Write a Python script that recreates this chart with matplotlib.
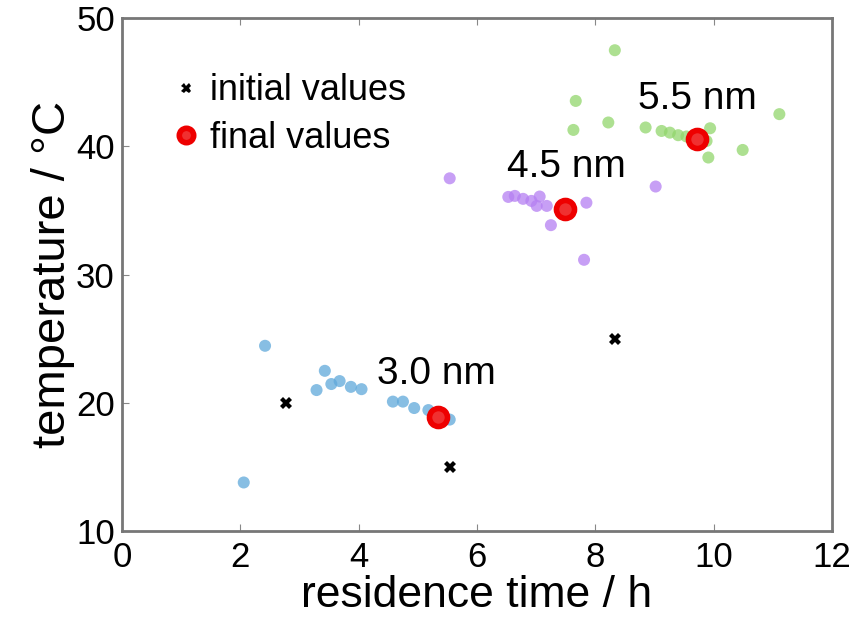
import matplotlib
matplotlib.use("Agg")
import matplotlib.pyplot as plt

plt.rcParams['font.family'] = ['Liberation Sans', 'DejaVu Sans']

# 3.0 nm cluster
blue_x = [2.42, 2.06, 3.43, 3.29, 3.54, 3.68, 3.87, 4.05, 4.58, 4.75, 4.94, 5.18, 5.29, 5.54]
blue_y = [24.45, 13.8, 22.5, 21.0, 21.47, 21.7, 21.25, 21.07, 20.1, 20.1, 19.6, 19.44, 19.1, 18.7]

# 4.5 nm cluster
purple_x = [5.54, 9.02, 6.53, 6.64, 6.78, 6.92, 7.06, 7.01, 7.18, 7.85, 7.25, 7.81]
purple_y = [37.5, 36.86, 36.05, 36.13, 35.9, 35.74, 36.08, 35.35, 35.35, 35.6, 33.85, 31.15]

# 5.5 nm cluster
green_x = [8.33, 7.67, 7.63, 8.22, 8.85, 9.12, 9.26, 9.40, 9.54, 9.94, 9.88, 9.91, 10.49, 11.11]
green_y = [47.48, 43.53, 41.27, 41.85, 41.46, 41.19, 41.06, 40.86, 40.76, 41.4, 40.41, 39.12, 39.71, 42.5]

init_x = [2.77, 5.54, 8.33]
init_y = [20.0, 15.0, 25.0]

final_x = [5.34, 7.49, 9.72]
final_y = [18.9, 35.1, 40.6]

labels = ['3.0 nm', '4.5 nm', '5.5 nm']
label_x = [5.32, 7.52, 9.73]
label_y = [22.25, 38.35, 43.65]

fig = plt.figure(figsize=(8.64, 6.17), dpi=100)
ax = fig.add_axes([0.141, 0.139, 0.822, 0.832])

ax.scatter(blue_x, blue_y, s=75, color='#5fa8da', alpha=0.75, edgecolors='none', zorder=2)
ax.scatter(purple_x, purple_y, s=75, color='#b57ff2', alpha=0.75, edgecolors='none', zorder=2)
ax.scatter(green_x, green_y, s=75, color='#92d66c', alpha=0.75, edgecolors='none', zorder=2)

ax.plot(init_x, init_y, linestyle='none', marker='X', markersize=9, color='black',
        markeredgewidth=0, zorder=4, label='initial values')
ax.plot(final_x, final_y, linestyle='none', marker='o', markersize=13, markerfacecolor='#f03030',
        markeredgecolor='#ee0000', markeredgewidth=4, zorder=4, label='final values')

for t, x, y in zip(labels, label_x, label_y):
    ax.text(x, y, t, fontsize=28, ha='center', va='center', zorder=5)

ax.set_xlim(0, 12)
ax.set_ylim(10, 50)
ax.set_xticks([0, 2, 4, 6, 8, 10, 12])
ax.set_yticks([10, 20, 30, 40, 50])
ax.tick_params(labelsize=25, direction='in', length=5, color='#888888', top=True, right=False)
ax.tick_params(axis='x', pad=7)
ax.tick_params(axis='y', pad=5)
for s in ax.spines.values():
    s.set_color('#777777')
    s.set_linewidth(2)

ax.set_xlabel('residence time / h', fontsize=32, labelpad=1)
ax.set_ylabel('temperature / °C', fontsize=34, labelpad=1)

ax.legend(loc='upper left', bbox_to_anchor=(0.045, 0.92), frameon=False, fontsize=26,
          handletextpad=0.15, handlelength=1.0, borderaxespad=0, labelspacing=0.35,
          markerscale=0.8)

fig.savefig('out.png', dpi=100)
